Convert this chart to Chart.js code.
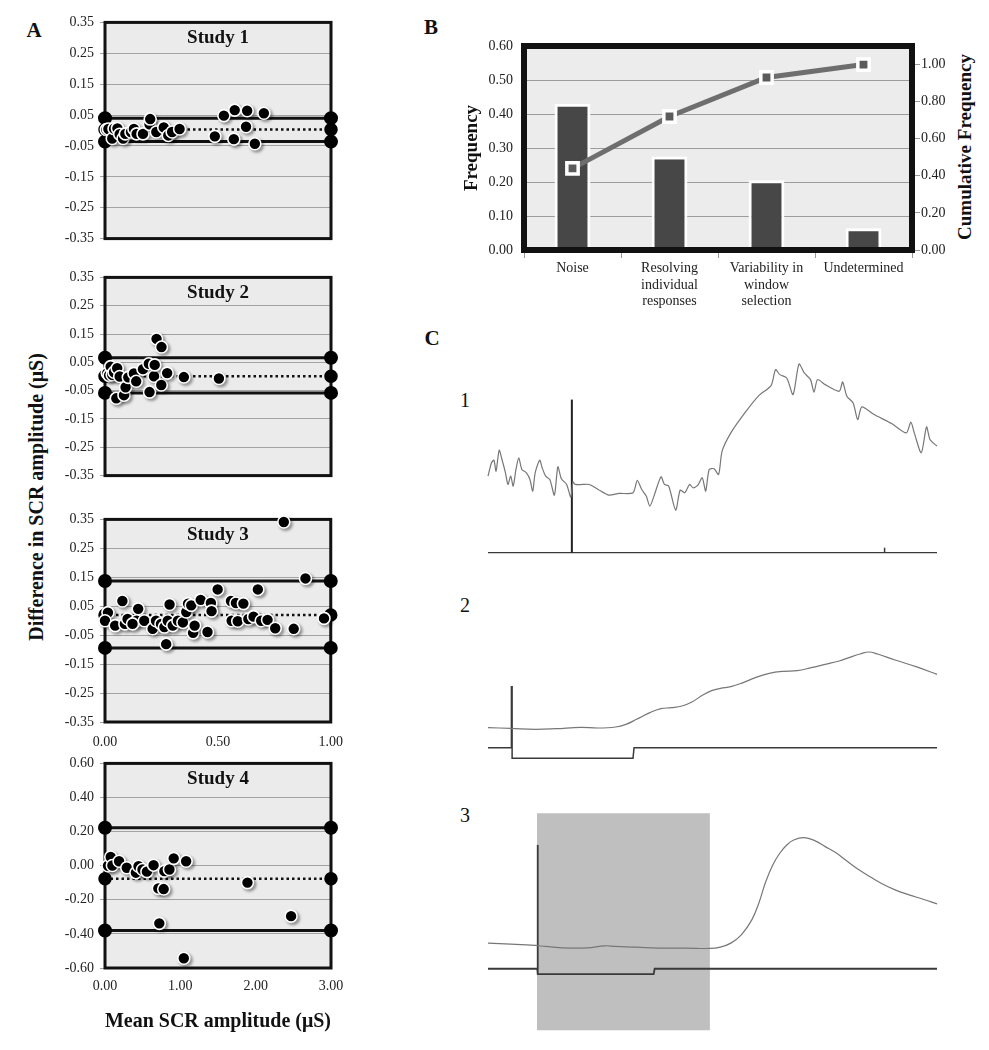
<!DOCTYPE html>
<html>
<head>
<meta charset="utf-8">
<script src="https://cdn.jsdelivr.net/npm/chart.js@4.4.1/dist/chart.umd.min.js"></script>
<style>
  body { margin: 0; background: #fff; width: 989px; height: 1050px; position: relative; overflow: hidden;
         font-family: "Liberation Serif", "Times New Roman", serif; color: #111; }
  canvas { position: absolute; }
  .txt { position: absolute; transform: translate(-50%, -50%); white-space: nowrap; line-height: 1; }
  .panel { font-weight: bold; font-size: 21px; }
  .num { font-size: 20px; }
  .vtitle { font-weight: bold; font-size: 19px; transform: translate(-50%, -50%) rotate(-90deg); }
</style>
</head>
<body>
<div class="txt panel" style="left:34px;top:30px">A</div>
<div class="txt panel" style="left:431px;top:27px">B</div>
<div class="txt panel" style="left:432px;top:338px">C</div>
<div class="txt num" style="left:465px;top:400px">1</div>
<div class="txt num" style="left:465px;top:605px">2</div>
<div class="txt num" style="left:465px;top:815px">3</div>
<div class="txt vtitle" style="left:36px;top:497px;font-size:20px">Difference in SCR amplitude (μS)</div>
<div class="txt vtitle" style="left:964px;top:147px">Cumulative Frequency</div>

<canvas id="s1" width="307" height="245" style="left:40px;top:8px"></canvas>
<canvas id="s2" width="307" height="227" style="left:40px;top:263px"></canvas>
<canvas id="s3" width="307" height="247" style="left:40px;top:505px"></canvas>
<canvas id="s4" width="307" height="289" style="left:40px;top:749px"></canvas>
<canvas id="pareto" width="569" height="320" style="left:420px;top:0px"></canvas>
<canvas id="t1" width="459" height="213" style="left:483px;top:348px"></canvas>
<canvas id="t2" width="459" height="150" style="left:483px;top:635px"></canvas>
<canvas id="t3" width="459" height="233" style="left:483px;top:805px"></canvas>

<script>
const SERIF = '"Liberation Serif", "Times New Roman", serif';

// ---- Panel A: Bland-Altman data (mean amplitude, difference) ----
const study1Mean = [0.006, 0.015, 0.032, 0.04, 0.055, 0.065, 0.08, 0.09, 0.115, 0.128, 0.14, 0.168, 0.197, 0.2,
  0.227, 0.26, 0.28, 0.297, 0.33, 0.486, 0.526, 0.57, 0.574, 0.624, 0.629, 0.663, 0.703];
const study1Diff = [0.003, 0.005, -0.026, 0.006, 0.007, -0.012, -0.026, -0.011, -0.005, 0.005, -0.011, -0.011, 0.02, 0.037,
  -0.005, 0.01, -0.016, -0.005, 0.005, -0.019, 0.048, -0.028, 0.066, 0.012, 0.064, -0.043, 0.056];
const study1Limits = [0.040, 0.003, -0.036];

const study2Mean = [0.01, 0.018, 0.025, 0.032, 0.04, 0.05, 0.054, 0.065, 0.084, 0.091, 0.103, 0.128, 0.138, 0.168,
  0.194, 0.197, 0.217, 0.22, 0.228, 0.249, 0.25, 0.275, 0.349, 0.504];
const study2Diff = [0.012, 0.004, 0.035, 0.006, 0.015, -0.077, 0.029, 0.0, -0.066, -0.038, -0.003, 0.011, -0.017, 0.026,
  0.045, -0.055, 0.001, 0.041, 0.133, -0.03, 0.104, 0.012, -0.002, -0.007];
const study2Limits = [0.066, 0.001, -0.058];

const study3Mean = [0.013, 0.0, 0.045, 0.077, 0.088, 0.1, 0.147, 0.14, 0.122, 0.174, 0.211, 0.226, 0.248, 0.263, 0.271,
  0.278, 0.286, 0.3, 0.323, 0.345, 0.36, 0.368, 0.382, 0.39, 0.397, 0.424, 0.454, 0.469, 0.472, 0.499, 0.558, 0.561,
  0.58, 0.588, 0.613, 0.635, 0.658, 0.677, 0.692, 0.72, 0.754, 0.792, 0.836, 0.888, 0.97];
const study3Diff = [0.028, 0.0, -0.017, 0.068, -0.011, 0.006, 0.041, 0.0, -0.011, 0.0, -0.028, 0.0, -0.011, -0.022, -0.081,
  0.0, 0.056, -0.017, 0.0, -0.006, 0.03, 0.059, 0.053, -0.042, -0.017, 0.072, -0.039, 0.061, 0.033, 0.108, 0.068, 0.0,
  0.061, -0.002, 0.059, 0.006, 0.014, 0.108, 0.0, 0.003, -0.026, 0.341, -0.028, 0.146, 0.008];
const study3Limits = [0.137, 0.02, -0.094];

const study4Mean = [0.04, 0.076, 0.098, 0.187, 0.289, 0.41, 0.445, 0.498, 0.556, 0.645, 0.708, 0.721, 0.779, 0.788,
  0.855, 0.912, 1.046, 1.077, 1.891, 2.47];
const study4Diff = [0.0, 0.051, 0.001, 0.026, -0.012, -0.041, -0.003, -0.022, -0.035, 0.003, -0.133, -0.338, -0.137, -0.032,
  -0.022, 0.043, -0.543, 0.026, -0.099, -0.296];
const study4Limits = [0.223, -0.076, -0.38];

// ---- Panel B: reasons for disagreement ----
const causeLabels = [['Noise'], ['Resolving', 'individual', 'responses'], ['Variability in', 'window', 'selection'], ['Undetermined']];
const causeFrequency = [0.43, 0.275, 0.205, 0.064];
const causeCumulative = [0.44, 0.72, 0.93, 1.00];

// ---- Panel C: example traces (sample index, amplitude a.u.) ----
const trace1Samples = [0, 10, 17, 23, 32, 40, 50, 57, 65, 72, 80, 88, 97, 110, 120, 128, 135, 148, 155, 165, 177, 190, 200,
  210, 225, 237, 243, 250, 270, 290, 315, 345, 375, 415, 427, 440, 453, 463, 475, 495, 505, 517, 537, 550, 563, 577, 587,
  600, 613, 623, 633, 647, 660, 670, 695, 735, 775, 810, 823, 835, 855, 873, 890, 905, 923, 933, 943, 965, 1005, 1015,
  1027, 1045, 1058, 1070, 1105, 1155, 1197, 1210, 1220, 1240, 1255, 1265, 1285];
const trace1Signal = [230, 270, 278, 245, 308, 280, 240, 205, 230, 200, 250, 285, 250, 240, 220, 185, 240, 278, 255, 230, 220,
  173, 258, 222, 205, 167, 212, 205, 205, 205, 190, 173, 178, 180, 217, 190, 170, 140, 170, 228, 205, 200, 128, 188, 180,
  205, 195, 202, 225, 185, 250, 252, 235, 305, 360, 420, 472, 502, 550, 535, 525, 475, 567, 540, 520, 482, 520, 505, 485,
  513, 470, 450, 400, 438, 415, 388, 360, 392, 360, 300, 378, 340, 320];
const trace1Onset = [240, 240];
const trace1OnsetLevel = [0, 460];
const trace1Baseline = [0, 1285];
const trace1End = 1135;

const trace2Samples = [0, 65, 135, 195, 265, 315, 365, 395, 425, 465, 495, 525, 555, 585, 615, 640, 665, 695, 725, 765, 805,
  845, 885, 925, 965, 1005, 1035, 1065, 1090, 1115, 1165, 1225, 1285];
const trace2Signal = [157, 155, 152, 154, 158, 156, 159, 167, 182, 203, 214, 217, 222, 235, 255, 268, 275, 280, 290, 307, 320,
  326, 328, 337, 347, 357, 368, 378, 384, 378, 360, 340, 317];
const trace2EventSamples = [0, 66, 67, 69, 69, 415, 418, 1285];
const trace2EventLevel = [97, 97, 280, 280, 65, 65, 97, 97];

const trace3Samples = [0, 65, 135, 165, 235, 285, 335, 365, 425, 485, 565, 635, 665, 695, 725, 755, 775, 795, 815, 835, 855,
  875, 905, 935, 965, 995, 1025, 1055, 1085, 1125, 1165, 1205, 1245, 1285];
const trace3Signal = [300, 297, 293, 290, 285, 286, 292, 290, 288, 285, 285, 284, 288, 300, 325, 370, 420, 485, 535, 570, 595,
  610, 617, 608, 590, 572, 548, 525, 505, 480, 460, 445, 432, 418];
const trace3EventSamples = [0, 141, 141, 143, 143, 474, 477, 1285];
const trace3EventLevel = [223, 223, 595, 595, 207, 207, 223, 223];
const trace3Window = [140, 635];
const trace3WindowLevel = [38, 690];

const zip = (xs, ys) => xs.map((x, i) => ({ x: x, y: ys[i] }));
const fmt2 = v => (Math.abs(v) < 1e-9 ? 0 : v).toFixed(2);

// plot-area background, frame and study title
const framePlugin = {
  id: 'framePlugin',
  beforeDraw(chart, args, opts) {
    const a = chart.chartArea, ctx = chart.ctx;
    ctx.save();
    ctx.fillStyle = opts.bg || '#ebebeb';
    ctx.fillRect(a.left, a.top, a.width, a.height);
    ctx.restore();
  },
  beforeDatasetsDraw(chart, args, opts) {
    if (opts.after) return;
    drawFrame(chart, opts);
  },
  afterDatasetsDraw(chart, args, opts) {
    if (opts.after) drawFrame(chart, opts);
  }
};
function drawFrame(chart, opts) {
  const a = chart.chartArea, ctx = chart.ctx;
  ctx.save();
  ctx.strokeStyle = '#111';
  ctx.lineWidth = opts.width || 3;
  ctx.strokeRect(a.left, a.top, a.width, a.height);
  if (opts.title) {
    ctx.fillStyle = '#111';
    ctx.font = 'bold 19px ' + SERIF;
    ctx.textAlign = 'center';
    ctx.textBaseline = 'middle';
    ctx.fillText(opts.title, (a.left + a.right) / 2, a.top + 16);
  }
  ctx.restore();
}

// drop shadow under the scatter markers
const shadowPlugin = {
  id: 'shadowPlugin',
  beforeDatasetDraw(chart, args) {
    if (args.index !== 0) return;
    const ctx = chart.ctx;
    ctx.save();
    ctx.shadowColor = 'rgba(0,0,0,0.35)';
    ctx.shadowOffsetX = 2;
    ctx.shadowOffsetY = 2;
    ctx.shadowBlur = 3;
  },
  afterDatasetDraw(chart, args) {
    if (args.index === 0) chart.ctx.restore();
  }
};

function studyChart(id, title, xs, ys, limits, cfg) {
  const xMax = cfg.xMax;
  const limitLine = (v, dashed) => ({
    type: 'scatter',
    data: [{ x: 0, y: v }, { x: xMax, y: v }],
    showLine: true,
    borderColor: '#111',
    borderWidth: dashed ? 2.5 : 3,
    borderDash: dashed ? [2.5, 3] : [],
    pointRadius: 5.5,
    pointBackgroundColor: '#000',
    pointBorderColor: '#000',
    clip: false
  });
  new Chart(document.getElementById(id), {
    type: 'scatter',
    data: {
      datasets: [
        {
          data: zip(xs, ys),
          pointRadius: 6,
          pointBackgroundColor: '#000',
          pointBorderColor: '#fff',
          pointBorderWidth: 1.6,
          clip: false
        },
        limitLine(limits[0], false),
        limitLine(limits[1], true),
        limitLine(limits[2], false)
      ]
    },
    options: {
      responsive: false,
      animation: false,
      events: [],
      layout: { padding: { left: 0, right: 16, top: 8, bottom: cfg.showX ? 0 : 8 } },
      plugins: {
        legend: { display: false },
        tooltip: { enabled: false },
        framePlugin: { title: title, width: 3 }
      },
      scales: {
        x: {
          type: 'linear', min: 0, max: xMax,
          display: cfg.showX,
          grid: { display: false },
          border: { display: false },
          ticks: { stepSize: cfg.xStep, callback: fmt2, color: '#222', padding: cfg.xPad, font: { family: SERIF, size: 14 }, maxRotation: 0 },
          title: {
            display: !!cfg.xTitle, text: cfg.xTitle, color: '#111',
            font: { family: SERIF, size: 20, weight: 'bold' }, padding: { top: 4, bottom: 4 }
          },
          afterFit: s => { s.height = cfg.xHeight; }
        },
        y: {
          min: cfg.yMin, max: cfg.yMax,
          grid: { color: '#a2a2a2', lineWidth: 1, drawTicks: true, tickLength: 5 },
          border: { display: false },
          ticks: { stepSize: cfg.yStep, callback: fmt2, color: '#222', padding: 6, font: { family: SERIF, size: 14 } },
          afterFit: s => { s.width = 65; }
        }
      }
    },
    plugins: [framePlugin, shadowPlugin]
  });
}

const shortY = { yMin: -0.35, yMax: 0.35, yStep: 0.1, xMax: 1, xStep: 0.5 };
studyChart('s1', 'Study 1', study1Mean, study1Diff, study1Limits, Object.assign({ showX: false, xHeight: 0, xPad: 0 }, shortY));
studyChart('s2', 'Study 2', study2Mean, study2Diff, study2Limits, Object.assign({ showX: false, xHeight: 0, xPad: 0 }, shortY));
studyChart('s3', 'Study 3', study3Mean, study3Diff, study3Limits, Object.assign({ showX: true, xHeight: 30, xPad: 4 }, shortY));
studyChart('s4', 'Study 4', study4Mean, study4Diff, study4Limits,
  { showX: true, xHeight: 70, xPad: 2, yMin: -0.6, yMax: 0.6, yStep: 0.2, xMax: 3, xStep: 1, xTitle: 'Mean SCR amplitude (μS)' });

// ---- Panel B ----
new Chart(document.getElementById('pareto'), {
  type: 'bar',
  data: {
    labels: causeLabels,
    datasets: [
      {
        type: 'line',
        data: causeCumulative,
        yAxisID: 'y1',
        borderColor: '#6e6e6e',
        borderWidth: 5,
        pointStyle: 'rect',
        pointRadius: 8,
        pointBackgroundColor: '#5a5a5a',
        pointBorderColor: '#fff',
        pointBorderWidth: 3.5,
        order: 0,
        clip: false
      },
      {
        type: 'bar',
        data: causeFrequency,
        yAxisID: 'y',
        backgroundColor: '#474747',
        borderColor: '#fff',
        borderWidth: 3,
        borderSkipped: 'start',
        barPercentage: 0.37,
        categoryPercentage: 1,
        order: 1
      }
    ]
  },
  options: {
    responsive: false,
    animation: false,
    events: [],
    layout: { padding: { left: 37, top: 46, right: 0, bottom: 0 } },
    plugins: {
      legend: { display: false },
      tooltip: { enabled: false },
      framePlugin: { width: 6, bg: '#ececec', after: true }
    },
    scales: {
      x: {
        grid: { offset: true, drawOnChartArea: false, drawTicks: true, tickLength: 8, color: '#999' },
        border: { display: false },
        ticks: { color: '#222', padding: 2, maxRotation: 0, autoSkip: false, font: { family: SERIF, size: 14, lineHeight: 1.19 } },
        afterFit: s => { s.height = 70; }
      },
      y: {
        min: 0, max: 0.6,
        grid: { color: '#9c9c9c', drawTicks: false },
        border: { display: false },
        ticks: { stepSize: 0.1, callback: fmt2, color: '#222', padding: 11, font: { family: SERIF, size: 14 } },
        title: { display: true, text: 'Frequency', color: '#111', font: { family: SERIF, size: 19, weight: 'bold' }, padding: { top: 4, bottom: 4 } },
        afterFit: s => { s.width = 67; }
      },
      y1: {
        position: 'right',
        min: 0, max: 1.1,
        grid: { drawOnChartArea: false, drawTicks: true, tickLength: 8, color: '#999' },
        border: { display: false },
        ticks: { stepSize: 0.2, includeBounds: false, callback: fmt2, color: '#222', padding: 1, font: { family: SERIF, size: 14 } },
        afterFit: s => { s.width = 77; }
      }
    }
  },
  plugins: [framePlugin]
});

// ---- Panel C ----
function traceChart(id, datasets, yMin, yMax) {
  new Chart(document.getElementById(id), {
    type: 'line',
    data: { datasets: datasets },
    options: {
      responsive: false,
      animation: false,
      events: [],
      layout: { padding: 5 },
      plugins: { legend: { display: false }, tooltip: { enabled: false } },
      elements: { point: { radius: 0 } },
      scales: {
        x: { type: 'linear', min: 0, max: 1285, display: false },
        y: { min: yMin, max: yMax, display: false }
      }
    }
  });
}
const signalStyle = { borderColor: '#777', borderWidth: 1.2, tension: 0.3, clip: false };
const eventStyle = { borderColor: '#3a3a3a', borderWidth: 1.5, tension: 0, clip: false };

traceChart('t1', [
  Object.assign({ data: zip(trace1Samples, trace1Signal) }, signalStyle, { tension: 0.25 }),
  Object.assign({ data: zip(trace1Onset, trace1OnsetLevel) }, eventStyle, { borderColor: '#222', borderWidth: 2 }),
  Object.assign({ data: zip(trace1Baseline, [0, 0]) }, eventStyle, { borderWidth: 1.2 }),
  Object.assign({ data: zip([trace1End, trace1End], [0, 15]) }, eventStyle, { borderWidth: 1.5 })
], -10, 600);

traceChart('t2', [
  Object.assign({ data: zip(trace2Samples, trace2Signal) }, signalStyle, { tension: 0.4 }),
  Object.assign({ data: zip(trace2EventSamples, trace2EventLevel) }, eventStyle)
], 0, 420);

traceChart('t3', [
  Object.assign({ data: zip(trace3Samples, trace3Signal) }, signalStyle, { tension: 0.4 }),
  Object.assign({ data: zip(trace3EventSamples, trace3EventLevel) }, eventStyle, { borderWidth: 1.8 }),
  {
    data: zip(trace3Window, [trace3WindowLevel[1], trace3WindowLevel[1]]),
    fill: { value: trace3WindowLevel[0] },
    backgroundColor: '#bfbfbf',
    borderColor: 'rgba(0,0,0,0)',
    borderWidth: 0
  }
], 30, 700);
</script>
</body>
</html>
